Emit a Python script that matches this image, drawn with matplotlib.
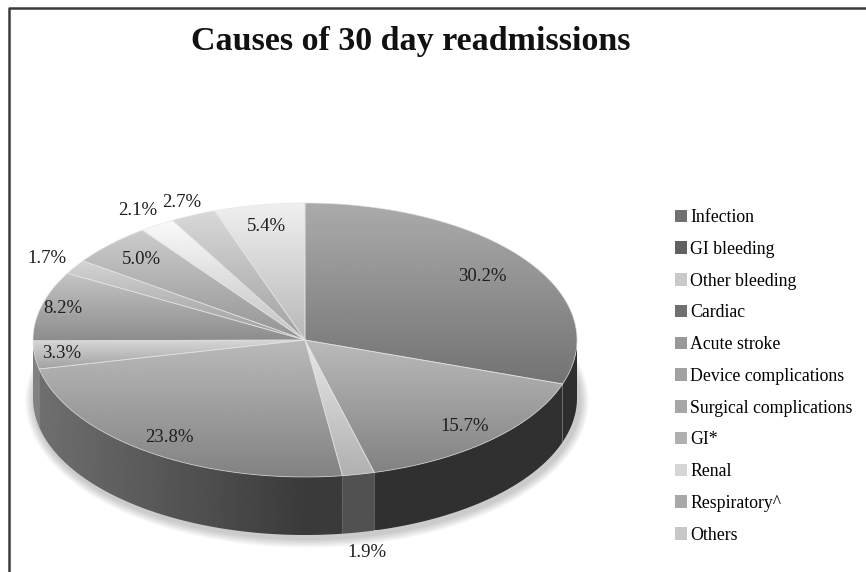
import numpy as np
import matplotlib
matplotlib.use("Agg")
import matplotlib.pyplot as plt
from matplotlib.patches import Polygon, Patch, Ellipse

# ---- data -------------------------------------------------------------
categories = ["Infection", "GI bleeding", "Other bleeding", "Cardiac",
              "Acute stroke", "Device complications", "Surgical complications",
              "GI*", "Renal", "Respiratory^", "Others"]
shares = [30.2, 15.7, 1.9, 23.8, 3.3, 8.2, 1.7, 5.0, 2.1, 2.7, 5.4]
title = "Causes of 30 day readmissions"

# ---- styling ----------------------------------------------------------
top_grey = [0.56, 0.62, 0.80, 0.62, 0.74, 0.66, 0.72, 0.69, 0.87, 0.74, 0.83]
side_grey = [0.18, 0.19, 0.32, 0.23, 0.30, 0.30, 0.30, 0.30, 0.30, 0.30, 0.30]
legend_grey = [0.44, 0.38, 0.79, 0.44, 0.60, 0.63, 0.65, 0.69, 0.84, 0.66, 0.78]
label_radius = [0.80, 0.86, 1.15, 0.87, 0.90, 0.92, 1.12, 0.84, 1.13, 1.10, 0.84]
serif = "Liberation Serif"

W, H = 866, 572
fig = plt.figure(figsize=(W / 100, H / 100), dpi=100)
ax = fig.add_axes([0, 0, 1, 1])

# pie geometry (pixel space): centre, semi-axes, thickness
cx, cy, a, b, depth = 305, 340, 272, 137, 58


def rim(t, r=1.0, drop=0.0):
    return cx + r * a * np.sin(t), cy - r * b * np.cos(t) + drop


def gradient_fill(poly_xy, values, horizontal, zorder):
    """Fill a polygon with a linear grey ramp clipped to its outline."""
    xs, ys = poly_xy[:, 0], poly_xy[:, 1]
    x0, x1, y0, y1 = xs.min(), xs.max(), ys.min(), ys.max()
    if horizontal:
        img = np.tile(values, (2, 1))
    else:
        img = np.tile(values[:, None], (1, 2))
    im = ax.imshow(img, cmap="gray", vmin=0, vmax=1, origin="upper",
                   extent=(x0, x1 + 1e-3, y1 + 1e-3, y0), interpolation="bilinear",
                   zorder=zorder)
    clip = Polygon(poly_xy, closed=True, facecolor="none", edgecolor="none",
                   transform=ax.transData)
    ax.add_patch(clip)
    im.set_clip_path(clip)


fracs = np.array(shares) / sum(shares)
bounds = np.concatenate([[0], np.cumsum(fracs)]) * 2 * np.pi

# soft shadow beneath the pie
for k in range(6):
    ax.add_patch(Ellipse((cx + 2, cy + depth + 3), 2 * a + 4 + 3 * k,
                         2 * b + 4 + 3 * k, facecolor="black", alpha=0.035,
                         edgecolor="none", zorder=1))

# side walls (only the front half of the rim is visible)
for i, (t0, t1) in enumerate(zip(bounds[:-1], bounds[1:])):
    s0, s1 = max(t0, np.pi / 2), min(t1, 3 * np.pi / 2)
    if s1 <= s0:
        continue
    tt = np.linspace(s0, s1, 120)
    tx, ty = rim(tt)
    bx, by = rim(tt[::-1], drop=depth)
    poly = np.column_stack([np.concatenate([tx, bx]), np.concatenate([ty, by])])
    xs = np.linspace(poly[:, 0].min(), poly[:, 0].max(), 300)
    vals = side_grey[i] + 0.21 * np.clip((cx - xs) / a, 0, None)
    gradient_fill(poly, np.clip(vals, 0, 1), True, 2)

# top faces
for i, (t0, t1) in enumerate(zip(bounds[:-1], bounds[1:])):
    tt = np.linspace(t0, t1, max(int(300 * (t1 - t0)), 8))
    rx, ry = rim(tt)
    poly = np.column_stack([np.concatenate([[cx], rx]), np.concatenate([[cy], ry])])
    vals = top_grey[i] + 0.11 - 0.22 * np.linspace(0, 1, 200)
    gradient_fill(poly, np.clip(vals, 0, 1), False, 3)
    ax.add_patch(Polygon(poly, closed=True, facecolor="none", edgecolor="#e4e4e4",
                         lw=0.6, alpha=0.7, zorder=4))

# percentage labels
for i, (t0, t1) in enumerate(zip(bounds[:-1], bounds[1:])):
    tm = 0.5 * (t0 + t1)
    r = label_radius[i]
    drop = depth if (r > 1 and np.pi / 2 < tm < 3 * np.pi / 2) else 0
    lx, ly = rim(tm, r, drop)
    ax.text(lx, ly, f"{shares[i]:.1f}%", ha="center", va="center",
            fontsize=13.5, family=serif, color="#1e1e1e", zorder=6)

# title
ax.text(411, 50, title, ha="center", va="baseline", fontsize=24.5,
        fontweight="bold", family=serif, color="#111111", zorder=6)

# legend
handles = [Patch(facecolor=str(g), edgecolor="none") for g in legend_grey]
fig.legend(handles, categories, loc="upper left",
           bbox_to_anchor=(675 / W, 1 - 209 / H), frameon=False,
           prop={"family": serif, "size": 12.8}, handlelength=0.7,
           handleheight=0.7, handletextpad=0.15, labelspacing=0.83,
           borderpad=0, borderaxespad=0)

# outer frame along the left and top edges
ax.plot([9, 9, W + 10], [H + 10, 8, 8], color="#3a3a3a", lw=1.8,
        clip_on=False, zorder=7)

ax.set_xlim(0, W)
ax.set_ylim(H, 0)
ax.set_aspect("auto")
ax.axis("off")
fig.savefig("out.png", dpi=100)
